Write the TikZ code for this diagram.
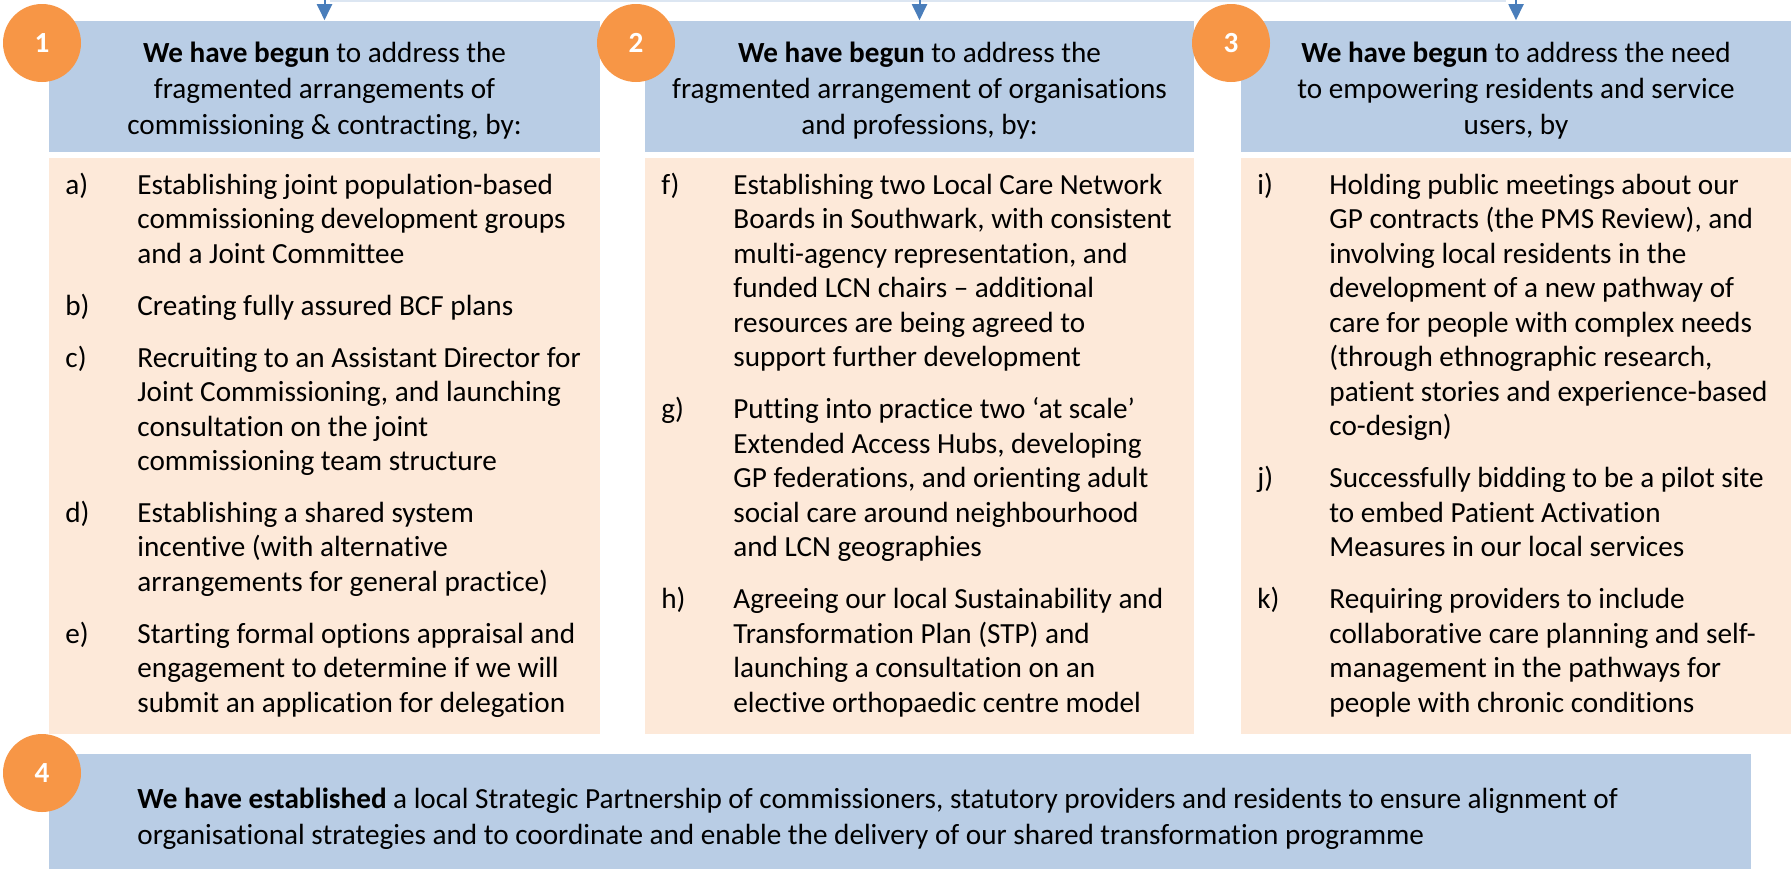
\documentclass[tikz,border=0pt]{standalone}
\usepackage{fontspec}
\setmainfont{Carlito}[Ligatures={NoCommon}]
\usetikzlibrary{arrows.meta}
\definecolor{hdrblue}{HTML}{B9CDE5}
\definecolor{peach}{HTML}{FDE9D9}
\definecolor{numorange}{HTML}{F79646}
\definecolor{arrowblue}{HTML}{4A7EBB}
\definecolor{faintline}{HTML}{DCE6F2}
\newcommand\itm[2]{\hangindent=36pt\hangafter=1\noindent\makebox[36pt][l]{#1}#2\par}
\newcommand\colbody[1]{\parbox[t]{290pt}{\fontsize{14.6pt}{17.25pt}\selectfont\parindent=0pt\parskip=8.65pt #1}}
\tikzset{
  hdrbox/.style={rectangle, fill=hdrblue, inner sep=0pt},
  hdrtext/.style={inner sep=0pt, align=center, font=\fontsize{14.6pt}{18pt}\selectfont},
  peachbox/.style={rectangle, fill=peach, inner sep=0pt},
  bluebar/.style={rectangle, fill=hdrblue, inner sep=0pt},
  numcirc/.style={circle, fill=numorange, inner sep=0pt, minimum size=39pt, text=white, font=\fontsize{14.6pt}{17pt}\selectfont\bfseries},
  bodytext/.style={inner sep=0pt, anchor=base west},
  arr/.style={draw=arrowblue, line width=1pt, -{Triangle[width=7.5pt,length=8pt]}}
}
\begin{document}
\begin{tikzpicture}[x=0.5pt,y=-0.5pt]
\useasboundingbox (0,0) rectangle (1791,869);
\draw[faintline, line width=1pt] (330,1) -- (1506,1);
% header boxes
\node[hdrbox, minimum width=275.5pt, minimum height=65.7pt] (h1) at (324.5,86.3) {};
\node[hdrbox, minimum width=274.5pt, minimum height=65.7pt] (h2) at (919.5,86.3) {};
\node[hdrbox, minimum width=275pt, minimum height=65.7pt] (h3) at (1516,86.3) {};
\node[hdrtext] (ht1) at (324.5,91)
  {\textbf{We have begun} to address the\\fragmented arrangements of\\commissioning \& contracting, by:};
\node[hdrtext] (ht2) at (919.5,91)
  {\textbf{We have begun} to address the\\fragmented arrangement of organisations\\and professions, by:};
\node[hdrtext] (ht3) at (1516,91)
  {\textbf{We have begun} to address the need\\to empowering residents and service\\users, by};
% peach boxes
\node[peachbox, minimum width=275.5pt, minimum height=288.2pt] (p1) at (324.5,445.8) {};
\node[peachbox, minimum width=274.5pt, minimum height=288.2pt] (p2) at (919.5,445.8) {};
\node[peachbox, minimum width=275pt, minimum height=288.2pt] (p3) at (1516,445.8) {};
% bottom bar
\node[bluebar, minimum width=851pt, minimum height=57.5pt] (b4) at (900,811.5) {};
% column texts
\node[bodytext] (t1) at (65,194.4) {\colbody{%
\itm{a)}{Establishing joint population-based\\commissioning development groups\\and a Joint Committee}
\itm{b)}{Creating fully assured BCF plans}
\itm{c)}{Recruiting to an Assistant Director for\\Joint Commissioning, and launching\\consultation on the joint\\commissioning team structure}
\itm{d)}{Establishing a shared system\\incentive (with alternative\\arrangements for general practice)}
\itm{e)}{Starting formal options appraisal and\\engagement to determine if we will\\submit an application for delegation}}};
\node[bodytext] (t2) at (661,194.4) {\colbody{%
\itm{f)}{Establishing two Local Care Network\\Boards in Southwark, with consistent\\multi-agency representation, and\\funded LCN chairs – additional\\resources are being agreed to\\support further development}
\itm{g)}{Putting into practice two ‘at scale’\\Extended Access Hubs, developing\\GP federations, and orienting adult\\social care around neighbourhood\\and LCN geographies}
\itm{h)}{Agreeing our local Sustainability and\\Transformation Plan (STP) and\\launching a consultation on an\\elective orthopaedic centre model}}};
\node[bodytext] (t3) at (1257,194.4) {\colbody{%
\itm{i)}{Holding public meetings about our\\GP contracts (the PMS Review), and\\involving local residents in the\\development of a new pathway of\\care for people with complex needs\\(through ethnographic research,\\patient stories and experience-based\\co-design)}
\itm{j)}{Successfully bidding to be a pilot site\\to embed Patient Activation\\Measures in our local services}
\itm{k)}{Requiring providers to include\\collaborative care planning and self-\\management in the pathways for\\people with chronic conditions}}};
\node[bodytext] (t4) at (137,808) {\parbox[t]{820pt}{\fontsize{14.6pt}{18.25pt}\selectfont\parindent=0pt
\textbf{We have established} a local Strategic Partnership of commissioners, statutory providers and residents to ensure alignment of\\organisational strategies and to coordinate and enable the delivery of our shared transformation programme}};
% number circles
\node[numcirc] (c1) at (42,43) {1};
\node[numcirc] (c2) at (636,43) {2};
\node[numcirc] (c3) at (1231,43) {3};
\node[numcirc] (c4) at (42,773) {4};
% arrows
\coordinate (a1) at (324.5,0);
\coordinate (a2) at (919.5,0);
\coordinate (a3) at (1516,0);
\draw[arr] (a1) -- (h1.north);
\draw[arr] (a2) -- (h2.north);
\draw[arr] (a3) -- (h3.north);
\end{tikzpicture}
\end{document}
